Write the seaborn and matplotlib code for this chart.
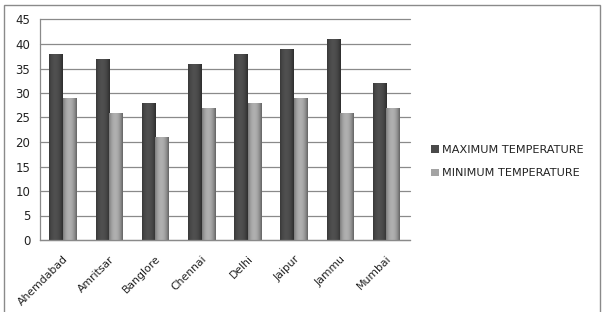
import matplotlib
matplotlib.use("Agg")
import matplotlib.pyplot as plt
import seaborn as sns
import pandas as pd
import numpy as np
from matplotlib.patches import Rectangle

cities = ["Ahemdabad", "Amritsar", "Banglore", "Chennai", "Delhi", "Jaipur", "Jammu", "Mumbai"]
max_temp = [38, 37, 28, 36, 38, 39, 41, 32]
min_temp = [29, 26, 21, 27, 28, 29, 26, 27]
series = ["MAXIMUM TEMPERATURE", "MINIMUM TEMPERATURE"]
yticks = [0, 5, 10, 15, 20, 25, 30, 35, 40, 45]

df = pd.DataFrame({
    "city": cities * 2,
    "temp": max_temp + min_temp,
    "series": [series[0]] * len(cities) + [series[1]] * len(cities),
})

sns.set_style("white")
plt.rcParams["font.family"] = ["DejaVu Sans"]

fig = plt.figure(figsize=(6.06, 3.12), dpi=100)
ax = fig.add_axes([40 / 606, 1 - 240 / 312, (409.5 - 40) / 606, (240 - 19.5) / 312])

palette = {series[0]: "#4a4a4a", series[1]: "#a3a3a3"}
sns.barplot(data=df, x="city", y="temp", hue="series", palette=palette,
            width=0.59, ax=ax, saturation=1, legend=True, edgecolor="none")

# gradient shading on bars
for p in ax.patches:
    if p.get_height() <= 0 or p.get_width() <= 0:
        continue
    x0, y0 = p.get_x(), p.get_y()
    w, h = p.get_width(), p.get_height()
    base = np.array(matplotlib.colors.to_rgb(p.get_facecolor()))
    t = np.linspace(0, 1, 32)
    shade = 1 - 0.35 * (2 * np.abs(t - 0.45)) ** 2
    img = np.clip(base[None, None, :] * shade[None, :, None] * 1.08, 0, 1)
    im = ax.imshow(img, extent=(x0, x0 + w, y0, y0 + h), aspect="auto", zorder=p.get_zorder() + 0.1,
                   interpolation="bilinear")
    im.set_clip_path(p)

ax.set_xlim(-0.5, len(cities) - 0.5)
ax.set_ylim(0, 45)
ax.set_yticks(yticks)
ax.set_yticklabels([str(v) for v in yticks], fontsize=8.5, color="#222222")
ax.yaxis.grid(True, color="#8a8a8a", linewidth=0.9)
for gl in ax.get_ygridlines():
    gl.set_clip_on(False)
ax.set_axisbelow(True)
ax.set_xlabel("")
ax.set_ylabel("")

ax.set_xticks(range(len(cities)))
ax.set_xticklabels(cities, rotation=45, ha="right", rotation_mode="anchor", fontsize=7.8, color="#222222")
ax.tick_params(axis="x", which="major", length=0, pad=10)
ax.set_xticks(np.arange(-0.5, len(cities), 1), minor=True)
ax.tick_params(axis="x", which="minor", length=4, color="#8a8a8a", width=0.9, direction="out")
ax.tick_params(axis="y", which="major", length=4, color="#8a8a8a", width=0.9, direction="out", pad=3)

for s in ["top", "right"]:
    ax.spines[s].set_visible(False)
for s in ["left", "bottom"]:
    ax.spines[s].set_color("#8a8a8a")
    ax.spines[s].set_linewidth(0.9)

leg = ax.legend(loc="center left", bbox_to_anchor=(1.03, 0.355), frameon=False, fontsize=8.1,
                handlelength=0.7, handleheight=0.7, handletextpad=0.3, labelspacing=1.2)
for txt in leg.get_texts():
    txt.set_color("#222222")

fig.patches.append(Rectangle((4 / 606, -0.01), 596 / 606, 1.01 - 5 / 312, transform=fig.transFigure,
                             fill=False, edgecolor="#8a8a8a", linewidth=1.0))

fig.savefig("out.png", dpi=100)
